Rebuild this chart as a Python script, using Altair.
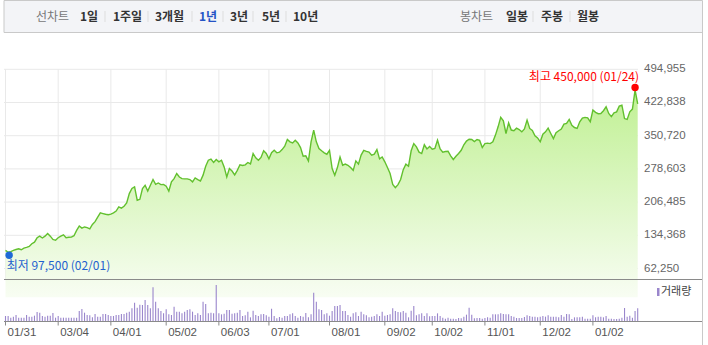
import altair as alt
import pandas as pd

# ---------------- data ----------------
price = [
    101500, 97500, 99000, 101500, 103500, 105000, 103000, 106500, 108000, 110000,
    116000, 119500, 129000, 132500, 128500, 132500, 138500, 132500, 125500, 123500,
    129000, 132500, 135500, 129000, 130000, 130500, 133500, 145000, 154500, 150000,
    152500, 151000, 148500, 158000, 164000, 174000, 183000, 181500, 180000, 179000,
    180500, 183000, 187000, 196000, 193500, 197500, 204500, 225000, 236000, 239500,
    210500, 212500, 236000, 243000, 230500, 243000, 255500, 245000, 248000, 244500,
    245000, 241000, 230500, 250500, 257500, 268500, 261000, 257500, 257000, 257000,
    255500, 250500, 259000, 255500, 252500, 265000, 284500, 297500, 300000, 292500,
    299000, 294000, 297500, 283000, 261000, 279500, 274000, 265500, 275500, 287500,
    286000, 287500, 292500, 289500, 312000, 302500, 297500, 303500, 318000, 312000,
    300500, 314000, 319000, 313500, 315000, 320500, 328000, 342500, 337500, 335000,
    341000, 335000, 325000, 306000, 307000, 296000, 337500, 363000, 337500, 323000,
    318000, 313500, 310500, 319000, 279500, 265000, 281500, 304500, 286500, 289000,
    286500, 281500, 275500, 296000, 289000, 308500, 319000, 316500, 315000, 308500,
    310500, 320500, 300500, 304500, 294000, 281500, 268500, 245000, 238000, 244500,
    255500, 277000, 289000, 284500, 318000, 333500, 326500, 315000, 312000, 331000,
    322000, 327500, 321500, 323000, 341000, 322000, 315000, 316500, 317000, 307000,
    299000, 306000, 312000, 319000, 331000, 339000, 343000, 342500, 338000, 342500,
    340500, 325000, 333500, 334500, 333500, 337500, 352000, 370000, 390500, 383000,
    355500, 378500, 363000, 361500, 367000, 364000, 359000, 365500, 384500, 366500,
    362000, 350500, 346000, 337500, 354000, 359000, 367000, 355500, 344500, 357000,
    361500, 365000, 376000, 377500, 386000, 373500, 368500, 366500, 381000, 389000,
    390500, 389500, 381000, 406500, 401500, 398500, 399000, 405000, 413500, 399000,
    392000, 400500, 402500, 415000, 417000, 388000, 386000, 402500, 408500, 450000,
    420000,
]

# trading volume (thousand shares)
volume = [
    150, 150, 100, 130, 180, 100, 100, 100, 180, 130,
    130, 160, 270, 250, 150, 130, 160, 160, 240, 100,
    150, 100, 100, 100, 100, 100, 100, 100, 300, 360,
    250, 180, 170, 110, 210, 130, 130, 210, 210, 180,
    150, 150, 180, 180, 210, 210, 250, 280, 380, 550,
    400, 490, 480, 630, 480, 380, 1010, 580, 380, 300,
    230, 350, 200, 180, 430, 280, 280, 230, 280, 330,
    350, 280, 180, 230, 180, 580, 510, 230, 250, 230,
    1080, 230, 200, 220, 330, 330, 220, 230, 250, 330,
    150, 170, 280, 110, 310, 180, 150, 200, 210, 170,
    130, 370, 150, 80, 120, 100, 150, 150, 200, 230,
    150, 100, 150, 130, 240, 110, 200, 850, 580, 350,
    330, 200, 230, 160, 300, 450, 450, 480, 300, 300,
    180, 130, 230,
    260, 150, 280, 200, 170, 110, 130, 150, 200, 150,
    280, 160, 180, 200, 380, 300, 270, 260, 300, 250,
    110, 310, 450, 170, 200, 230, 150, 230, 140, 150,
    150, 230, 150, 100, 70, 100, 70, 70, 60, 90,
    80, 130, 190, 400, 190, 80, 90, 90, 70, 90,
    110, 100, 200, 200, 200, 230, 210, 200, 200, 150,
    130, 90, 90, 90, 120, 170, 150, 130, 130, 110,
    130, 150, 130, 170, 130, 130, 130, 110, 180, 130,
    210, 200, 60, 110, 110, 110, 130, 70, 70, 70,
    170, 110, 130, 130, 110, 150, 70, 70, 60, 60,
    70, 100, 390, 130, 160, 100, 300, 380,
]

tick_idx = [0, 20, 40, 61, 81, 100, 123, 144, 162, 182, 203, 223]
tick_labels = ["01/31", "03/04", "04/01", "05/02", "06/03", "07/01",
               "08/01", "09/02", "10/02", "11/01", "12/02", "01/02"]
y_ticks = [62250, 134368, 206485, 278603, 350720, 422838, 494955]

low_date = "02/01"
high_date = "01/24"

menu_left = ["선차트", "1일", "1주일", "3개월", "1년", "3년", "5년", "10년"]
menu_right = ["봉차트", "일봉", "주봉", "월봉"]

# ---------------- layout / style ----------------
KR = "Noto Sans CJK KR"
NUM = "Liberation Sans"
PLOT_TOP, PLOT_BOT = 69.3, 279
VOL_TOP, VOL_BOT = 285, 321
LEFT, RIGHT, PLOT_R = 4, 702.5, 638

df = pd.DataFrame({"idx": list(range(len(price))), "price": price, "vol": volume})
ticks_df = pd.DataFrame({"idx": tick_idx, "label": tick_labels})
yt_df = pd.DataFrame({"v": y_ticks})

hi_i = max(range(len(price)), key=lambda i: price[i])
lo_i = min(range(len(price)), key=lambda i: price[i])
hi_df = pd.DataFrame({"idx": [hi_i], "price": [price[hi_i]],
                      "label": [f"최고 {price[hi_i]:,} ({high_date})"]})
lo_df = pd.DataFrame({"idx": [lo_i], "price": [price[lo_i]],
                      "label": [f"최저 {price[lo_i]:,} ({low_date})"]})

menu_x_left = [36, 80, 113, 155, 199, 230, 262, 293]
menu_x_right = [460, 506, 541, 577]
menu_df = pd.DataFrame({
    "label": menu_left + menu_right,
    "px": menu_x_left + menu_x_right,
    "color": ["#777777", "#333333", "#333333", "#333333", "#2553c5", "#333333", "#333333", "#333333",
              "#777777", "#333333", "#333333", "#333333"],
    "bold": [False] + [True] * 7 + [False] + [True] * 3,
})
sep_df = pd.DataFrame({"px": [105, 148, 192, 223, 253, 286, 533, 570]})

X = alt.Scale(domain=[0, len(price) - 1], range=[5.5, 637.7])
YP = alt.Scale(domain=[39443, 494955], range=[PLOT_BOT, PLOT_TOP])
YV = alt.Scale(domain=[0, 1080], range=[VOL_BOT, VOL_TOP])

one = pd.DataFrame({"a": [0]})

bar_bg = alt.Chart(one).mark_rect(fill="#f3f4f7", stroke="#c9c9c9", strokeWidth=1).encode(
    x=alt.value(LEFT), x2=alt.value(RIGHT), y=alt.value(0.5), y2=alt.value(32.5))


def menu_layer(bold):
    sub = menu_df[menu_df.bold == bold]
    return alt.Chart(sub).mark_text(
        align="left", baseline="middle", font=KR, fontSize=12,
        fontWeight="bold" if bold else "normal").encode(
        x=alt.X("px:Q", scale=None, axis=None), y=alt.value(16.5),
        text="label:N",
        color=alt.Color("color:N", scale=None, legend=None),
    )


menu_n = menu_layer(False)
menu_b = menu_layer(True)

seps = alt.Chart(sep_df).mark_rule(color="#dddddd", strokeWidth=1).encode(
    x=alt.X("px:Q", scale=None, axis=None), y=alt.value(11), y2=alt.value(22))

hgrid = alt.Chart(yt_df).mark_rule(color="#e9e9e9", strokeWidth=1).encode(
    y=alt.Y("v:Q", scale=YP, axis=None), x=alt.value(LEFT), x2=alt.value(PLOT_R))

vgrid = alt.Chart(ticks_df).mark_rule(color="#e9e9e9", strokeWidth=1).encode(
    x=alt.X("idx:Q", scale=X, axis=None), y=alt.value(PLOT_TOP), y2=alt.value(PLOT_BOT))

area = alt.Chart(df).mark_area(
    color=alt.Gradient(
        gradient="linear",
        stops=[alt.GradientStop(color="#c0f093", offset=0),
               alt.GradientStop(color="#f8fdf3", offset=1)],
        x1=1, x2=1, y1=0, y2=1),
    opacity=1,
).encode(
    x=alt.X("idx:Q", scale=X, axis=None),
    y=alt.Y("price:Q", scale=YP, axis=None),
    y2=alt.value(PLOT_BOT),
)

line = alt.Chart(df).mark_line(color="#62c02e", strokeWidth=1.4).encode(
    x=alt.X("idx:Q", scale=X, axis=None),
    y=alt.Y("price:Q", scale=YP, axis=None),
)

hi_pt = alt.Chart(hi_df).mark_circle(size=55, color="#ff0000", opacity=1, yOffset=-2.5).encode(
    x=alt.X("idx:Q", scale=X, axis=None), y=alt.Y("price:Q", scale=YP, axis=None))
lo_pt = alt.Chart(lo_df).mark_circle(size=55, color="#1f6ad6", opacity=1, yOffset=3, xOffset=1).encode(
    x=alt.X("idx:Q", scale=X, axis=None), y=alt.Y("price:Q", scale=YP, axis=None))

hi_txt = alt.Chart(hi_df).mark_text(
    align="right", baseline="middle", dx=4, dy=-13, font=KR, fontSize=12, color="#ff0000").encode(
    x=alt.X("idx:Q", scale=X, axis=None), y=alt.Y("price:Q", scale=YP, axis=None), text="label:N")
lo_txt = alt.Chart(lo_df).mark_text(
    align="left", baseline="middle", dx=-1.5, dy=13.5, font=KR, fontSize=12, color="#1f62cf").encode(
    x=alt.X("idx:Q", scale=X, axis=None), y=alt.Y("price:Q", scale=YP, axis=None), text="label:N")

ylab = alt.Chart(yt_df).mark_text(align="left", baseline="middle", font=NUM, fontSize=11.5, color="#666666").encode(
    x=alt.value(644), y=alt.Y("v:Q", scale=YP, axis=None), text=alt.Text("v:Q", format=","))

pane_line = alt.Chart(one).mark_rule(color="#8a8a8a", strokeWidth=1).encode(
    x=alt.value(LEFT), x2=alt.value(RIGHT), y=alt.value(PLOT_BOT + 0.5))

vol = alt.Chart(df).mark_rule(color="#9a86cc", strokeWidth=1.1).encode(
    x=alt.X("idx:Q", scale=X, axis=None),
    y=alt.Y("vol:Q", scale=YV, axis=None),
    y2=alt.value(VOL_BOT),
)

vol_line = alt.Chart(one).mark_rule(color="#8a8a8a", strokeWidth=1).encode(
    x=alt.value(LEFT), x2=alt.value(RIGHT), y=alt.value(VOL_BOT + 0.5))

xticks = alt.Chart(ticks_df).mark_rule(color="#8a8a8a", strokeWidth=1).encode(
    x=alt.X("idx:Q", scale=X, axis=None), y=alt.value(VOL_BOT), y2=alt.value(VOL_BOT + 4.5))

xlab = alt.Chart(ticks_df).mark_text(align="left", baseline="middle", dx=2, font=NUM, fontSize=11.5, color="#555555").encode(
    x=alt.X("idx:Q", scale=X, axis=None), y=alt.value(333), text="label:N")

leg_rect = alt.Chart(one).mark_rect(color="#9a86cc").encode(
    x=alt.value(657), x2=alt.value(659.5), y=alt.value(288), y2=alt.value(296))
leg_txt = alt.Chart(pd.DataFrame({"t": ["거래량"]})).mark_text(
    align="left", baseline="middle", font=KR, fontSize=11, color="#444444").encode(
    x=alt.value(661), y=alt.value(292), text="t:N")

right_border = alt.Chart(one).mark_rule(color="#c9c9c9", strokeWidth=1).encode(
    x=alt.value(RIGHT), y=alt.value(32), y2=alt.value(345))

chart = alt.layer(
    bar_bg, menu_n, menu_b, seps, hgrid, vgrid, area, line, hi_pt, lo_pt, hi_txt, lo_txt,
    ylab, pane_line, vol, vol_line, xticks, xlab, leg_rect, leg_txt, right_border,
).resolve_scale(
    x="independent", y="independent", color="independent"
).properties(
    width=708, height=345,
    autosize=alt.AutoSizeParams(type="none"),
    padding=0,
    background="#ffffff",
).configure_view(stroke=None)

chart.save("out.html", embed_options={"renderer": "svg", "actions": False})
